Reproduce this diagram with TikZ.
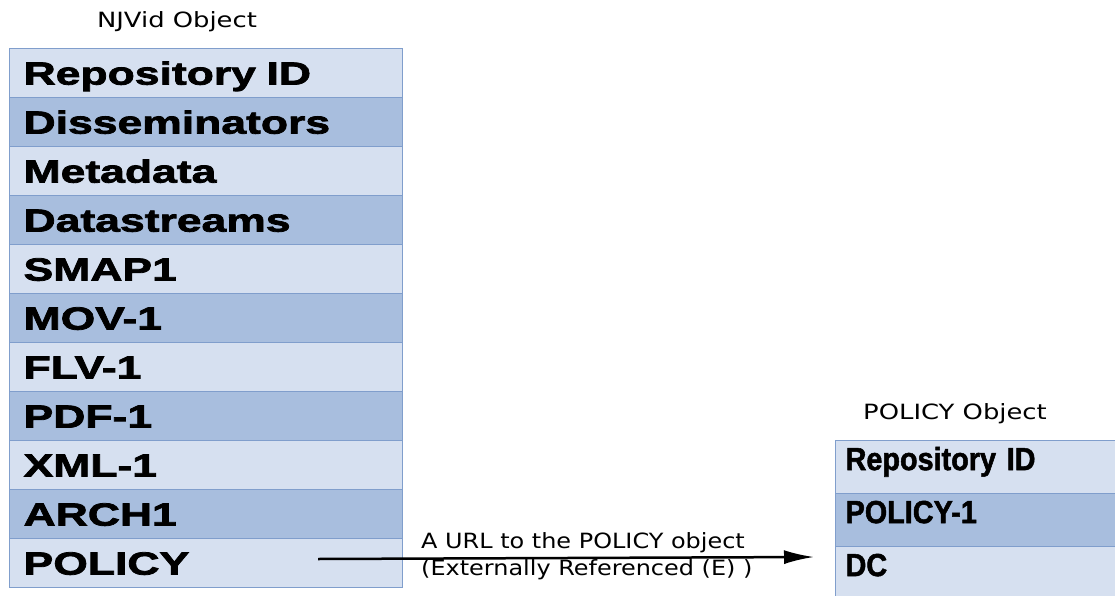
\documentclass[tikz,border=0pt]{standalone}
\usepackage{fontspec}
\usetikzlibrary{arrows.meta}
\newfontfamily\rowfont[FakeStretch=1.39,FakeBold=2.4]{Liberation Sans Bold}
\newfontfamily\polfont[FakeStretch=0.9,FakeBold=1.6]{Liberation Sans Bold}
\newfontfamily\handfont[FakeStretch=1.23]{DejaVu Sans}
\newfontfamily\labfont[FakeStretch=1.14]{DejaVu Sans}
\definecolor{lightc}{RGB}{214,224,240}
\definecolor{darkc}{RGB}{168,190,222}
\definecolor{bordc}{RGB}{128,158,204}
\tikzset{
  lrow/.style={draw=bordc, line width=1.2pt, anchor=north west, minimum width=393pt,
    minimum height=49pt, inner xsep=14pt, inner ysep=0pt, text width=365pt, align=left,
    text height=23pt, text depth=0pt,
    font={\rowfont\fontsize{32pt}{32pt}\selectfont}},
  rrow/.style={draw=bordc, line width=1.2pt, anchor=north west, minimum width=300pt,
    minimum height=53pt, inner xsep=10pt, inner ysep=0pt, text width=280pt, align=left,
    text height=23pt, text depth=17pt,
    font={\polfont\fontsize{32pt}{32pt}\selectfont}},
  light/.style={fill=lightc},
  dark/.style={fill=darkc},
  hand/.style={inner sep=0pt, font={\handfont\fontsize{21pt}{27pt}\selectfont}},
  lab/.style={inner sep=0pt, font={\labfont\fontsize{21pt}{27pt}\selectfont}},
  link/.style={-{Latex[length=30pt,width=14pt]}, line width=2.5pt, black}
}
\begin{document}
\begin{tikzpicture}[x=1pt,y=-1pt]
\clip (0,0) rectangle (1115,596);
\fill[white] (0,0) rectangle (1115,596);
% left object
\node[hand] (ltitle) at (177,22) {NJVid Object};
\node[lrow,light] (r1)  at (9,48)  {Repository ID};
\node[lrow,dark]  (r2)  at (9,97)  {Disseminators};
\node[lrow,light] (r3)  at (9,146) {Metadata};
\node[lrow,dark]  (r4)  at (9,195) {Datastreams};
\node[lrow,light] (r5)  at (9,244) {SMAP1};
\node[lrow,dark]  (r6)  at (9,293) {MOV-1};
\node[lrow,light] (r7)  at (9,342) {FLV-1};
\node[lrow,dark]  (r8)  at (9,391) {PDF-1};
\node[lrow,light] (r9)  at (9,440) {XML-1};
\node[lrow,dark]  (r10) at (9,489) {ARCH1};
\node[lrow,light] (r11) at (9,538) {POLICY};
% right object
\node[hand] (rtitle) at (955,414) {POLICY Object};
\node[rrow,light] (p1) at (835,440) {Repository ID};
\node[rrow,dark]  (p2) at (835,493) {POLICY-1};
\node[rrow,light] (p3) at (835,546) {DC};
% link
\coordinate (astart) at (318,559);
\coordinate (aend) at (814,557);
\draw[link] (astart) -- (aend);
\node[lab, anchor=north west, align=left] (lab) at (421,532)
  {A URL to the POLICY object\\(Externally Referenced (E) )};
\end{tikzpicture}
\end{document}
